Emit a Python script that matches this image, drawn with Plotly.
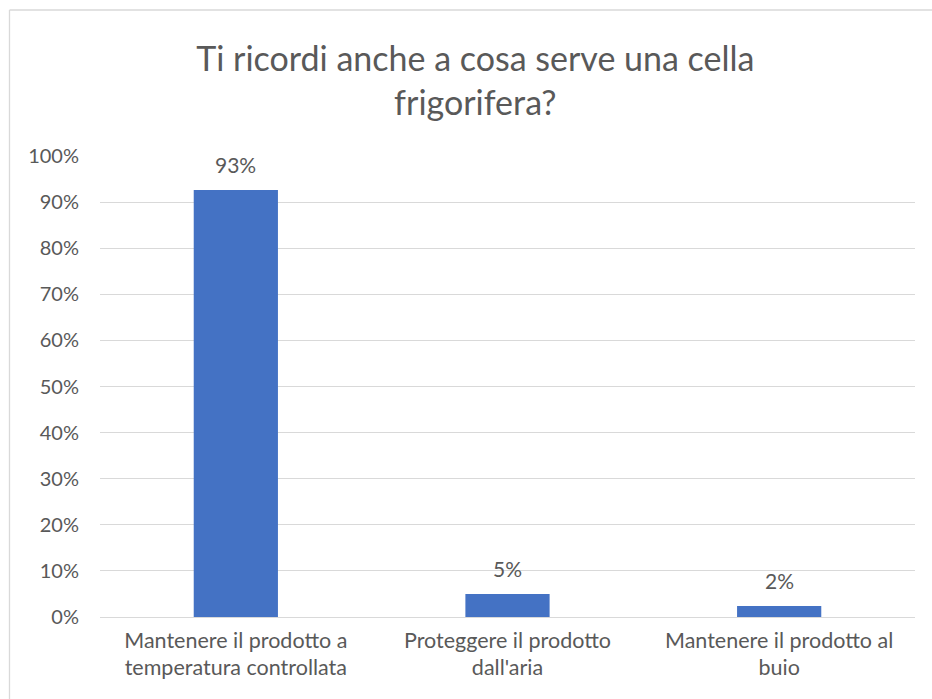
import plotly.graph_objects as go

categories = ["Mantenere il prodotto a<br>temperatura controllata",
              "Proteggere il prodotto<br>dall'aria",
              "Mantenere il prodotto al<br>buio"]
values = [0.926, 0.05, 0.024]
labels = ["93%", "5%", "2%"]
tick_vals = [i / 10 for i in range(11)]
tick_text = [f"{i*10}%" for i in range(11)]

FONT = "Lato, 'Open Sans', sans-serif"
GREY = "#595959"

fig = go.Figure(go.Bar(
    x=categories, y=values,
    marker=dict(color="#4472C4", line=dict(width=0)),
    hoverinfo="skip",
))

for c, v, t in zip(categories, values, labels):
    fig.add_annotation(x=c, y=v, text=t, showarrow=False, yanchor="bottom",
                       yshift=11, font=dict(family=FONT, size=21, color=GREY))

fig.update_layout(
    width=932, height=699,
    margin=dict(l=100, r=17, t=156, b=82),
    paper_bgcolor="white", plot_bgcolor="white",
    bargap=0.69,
    showlegend=False,
    title=dict(text="Ti ricordi anche a cosa serve una cella<br>frigorifera?",
               x=0.51, xanchor="center", y=1 - 71 / 699, yanchor="middle",
               font=dict(family=FONT, size=34, color=GREY)),
    font=dict(family=FONT, color=GREY),
    xaxis=dict(tickfont=dict(family=FONT, size=21.5, color=GREY), showgrid=False,
               showline=False, ticks="", fixedrange=True, ticklabelstandoff=8),
    yaxis=dict(range=[0, 1.0], tickvals=tick_vals, ticktext=tick_text,
               tickfont=dict(family=FONT, size=20, color=GREY),
               gridcolor="#D9D9D9", gridwidth=1.3, zeroline=True,
               zerolinecolor="#D9D9D9", zerolinewidth=1.3,
               showline=False, ticks="", ticklabelstandoff=20, fixedrange=True),
)

# outer chart-area border (left and top edges visible)
fig.add_shape(type="line", xref="paper", yref="paper",
              x0=(9.5 - 100) / 815, x1=(9.5 - 100) / 815,
              y0=(617 - 705) / 461, y1=(617 - 10) / 461,
              line=dict(color="#D9D9D9", width=1.3))
fig.add_shape(type="line", xref="paper", yref="paper",
              x0=(9.5 - 100) / 815, x1=(940 - 100) / 815,
              y0=(617 - 10) / 461, y1=(617 - 10) / 461,
              line=dict(color="#D9D9D9", width=1.3))

fig.write_html("out.html")
